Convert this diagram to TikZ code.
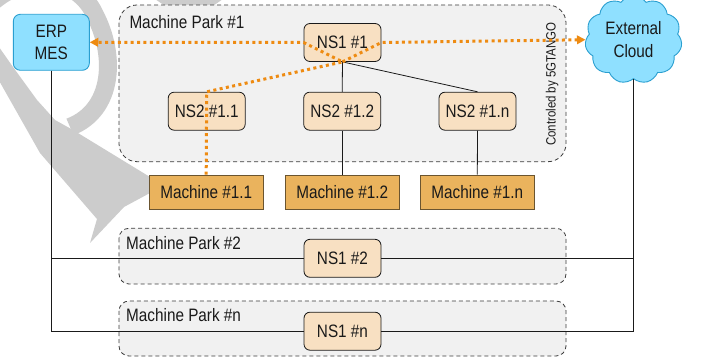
\documentclass[tikz,border=0pt]{standalone}
\usepackage{fontspec}
\setmainfont{Liberation Sans}[FakeStretch=0.85]
\usetikzlibrary{shapes.symbols,arrows.meta}
\definecolor{wm}{HTML}{CCCCCC}
\definecolor{cyanfill}{HTML}{8FE0FF}
\definecolor{cyanline}{HTML}{2A9FD0}
\definecolor{nsfill}{HTML}{F8E0C2}
\definecolor{mfill}{HTML}{EAB35D}
\definecolor{mline}{HTML}{6B5530}
\definecolor{parkfill}{HTML}{F1F1F1}
\definecolor{orng}{HTML}{EE8B12}
\definecolor{ink}{HTML}{1A1A1A}
\begin{document}
\begin{tikzpicture}[x=1pt,y=-1pt,
  every node/.style={text=ink, font=\fontsize{18}{22.3}\selectfont, inner sep=0pt},
  container/.style={draw=ink!85, fill=parkfill, dash pattern=on 4pt off 3pt, line width=0.8pt},
  parklabel/.style={anchor=base west},
  nsbox/.style={draw=ink, fill=nsfill, rounded corners=6pt, minimum width=77, minimum height=38, line width=0.8pt},
  machbox/.style={draw=mline, fill=mfill, minimum width=114, minimum height=34.5, line width=0.8pt},
  ext/.style={draw=cyanline, fill=cyanfill, line width=0.9pt, align=center},
  wire/.style={draw=ink, line width=0.8pt},
  flow/.style={draw=orng, line width=3pt, dash pattern=on 3pt off 3.4pt},
  tip/.style={-{Triangle[length=8.5pt,width=8.5pt,fill=orng,color=orng]}}
]
\useasboundingbox (0,0) rectangle (702,358);
\fill[white] (0,0) rectangle (702,358);

% watermark
\fill[wm] (-20,20) -- (13,67) -- (37,100) -- (55,120) -- (73,130) -- (150,177) -- (150,193) -- (124,207) -- (90,243) -- (97,219) -- (40,153) -- (10,100) -- (-20,47) -- cycle;
\draw[wm, line width=18pt] (-25,22) .. controls (10,-30) and (75,-30) .. (95,15) .. controls (116,55) and (114,110) .. (70,127);
\fill[wm] (155,-1) -- (223,-1) -- (210,8) -- (168,8) -- cycle;

% containers
\draw[container, rounded corners=18pt] (119,5) rectangle (566,161.7);
\draw[container, rounded corners=10pt] (119,228.3) rectangle (566,284);
\draw[container, rounded corners=10pt] (119,301) rectangle (566,356);
\node[parklabel] (pk1) at (129.3,28.9) {Machine Park \#1};
\node[parklabel] (pk2) at (126,249.3) {Machine Park \#2};
\node[parklabel] (pkn) at (126,321) {Machine Park \#n};
\node[rotate=90, anchor=base, font=\fontsize{13.5}{16}\selectfont] (ctl) at (555.6,84.2) {Controled by 5GTANGO};

% nodes
\node[ext, rounded corners=7pt, minimum width=76, minimum height=56] (erp) at (51.3,42.3) {ERP\\MES};
\node[ext, cloud, cloud puffs=11, cloud puff arc=110, minimum width=97, minimum height=61] (cloud) at (633.5,39.7) {External\\Cloud};

\node[nsbox] (ns11) at (342.5,42.5) {NS1 \#1};
\node[nsbox] (ns211) at (206.7,111.2) {NS2 \#1.1};
\node[nsbox] (ns212) at (342.2,111.2) {NS2 \#1.2};
\node[nsbox] (ns21n) at (477.5,111.2) {NS2 \#1.n};
\node[machbox] (m11) at (206.2,192.2) {Machine \#1.1};
\node[machbox] (m12) at (342.2,192.2) {Machine \#1.2};
\node[machbox] (m1n) at (477.3,192.2) {Machine \#1.n};
\node[nsbox] (ns12) at (342.5,258.3) {NS1 \#2};
\node[nsbox] (ns1n) at (342.5,331.2) {NS1 \#n};

% black connectors
\draw[wire] (ns11.south) -- (ns212.north);
\draw[wire] (ns11.south) -- (ns21n.north);
\draw[wire] (ns212.south) -- (m12.north);
\draw[wire] (ns21n.south) -- (m1n.north);
\draw[wire] (erp.south) |- (ns12.west);
\draw[wire] (erp.south) |- (ns1n.west);
\draw[wire] (cloud.south) |- (ns12.east);
\draw[wire] (cloud.south) |- (ns1n.east);

% orange flows
\draw[flow, tip] (m11.north) -- (ns211.north) -- (ns11.south) -- (ns11.west) -- (erp.east);
\draw[flow, tip] (ns11.south) -- (ns11.east) -- (cloud.west);
\end{tikzpicture}
\end{document}
